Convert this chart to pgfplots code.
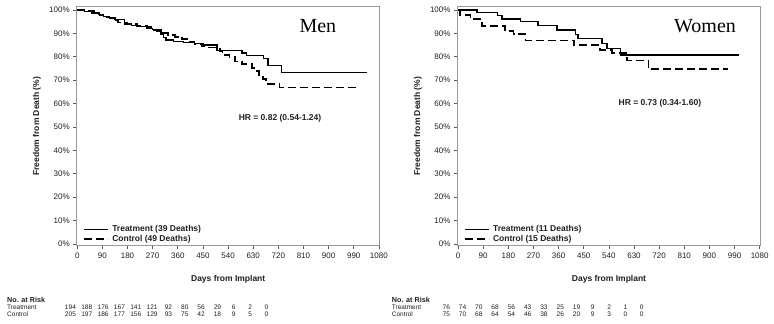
\documentclass[border=0pt]{standalone}
\usepackage{fontspec}
\setmainfont{Liberation Sans}
\newfontfamily\seriffont{Liberation Serif}
\usepackage{pgfplots}
\pgfplotsset{compat=1.18}
\definecolor{framegray}{gray}{0.6}
\definecolor{txt}{gray}{0.12}

\pgfplotsset{kmaxis/.style={
  scale only axis, width=303pt, height=239pt,
  xmin=-2, xmax=1083, ymin=-0.73, ymax=101.4,
  xtick={0,90,...,1080}, ytick={0,10,...,100},
  yticklabel={\pgfmathprintnumber{\tick}\%},
  /pgf/number format/assume math mode=true,
  /pgf/number format/1000 sep={},
  tick align=outside, major tick length=3.5pt,
  xtick pos=left, ytick pos=left,
  axis line style={framegray, line width=0.6pt},
  tick style={black!65, line width=0.6pt},
  ticklabel style={font=\fontsize{8}{9}\selectfont, text=txt},
  xlabel={Days from Implant}, ylabel={Freedom from Death (\%)},
  every axis x label/.style={at={(rel axis cs:0.5,0)}, yshift=-33.3pt, anchor=center, font=\bfseries\fontsize{8.5}{9}\selectfont, text=txt},
  every axis y label/.style={at={(rel axis cs:0,0.5)}, xshift=-39.7pt, rotate=90, anchor=center, font=\bfseries\fontsize{8.5}{9}\selectfont, text=txt},
  legend image code/.code={\draw[#1] (0pt,0pt) -- (24pt,0pt);},
  legend style={at={(rel axis cs:0,0)}, anchor=south west, xshift=3pt, yshift=0pt, draw=none, fill=none,
     font=\bfseries\fontsize{8.5}{9}\selectfont, text=txt, cells={anchor=west},
     nodes={inner sep=0.65pt, text height=6.2pt, text depth=1.8pt}, row sep=0pt,
     /tikz/column 1/.style={column sep=3pt}},
  trt/.style={black, line width=1.3pt, const plot},
  ctl/.style={black, line width=1.7pt, const plot, dash pattern=on 8pt off 4pt},
}}

\begin{document}
\begin{tikzpicture}[x=1pt,y=1pt]
% ---------- Men ----------
\begin{axis}[kmaxis, at={(76.7pt,78.3pt)}, anchor=south west]
\addplot[trt] coordinates {(0,100) (25,99.3) (50,98.7) (75,98.0) (95,97.3) (115,96.6) (135,96.0) (168,94.0) (195,93.4) (220,92.8) (250,92.2) (270,91.6) (285,90.7) (300,89.6) (310,88.2) (318,87.2) (345,86.4) (380,86.0) (420,85.6) (450,85.0) (500,82.8) (590,81.6) (605,80.6) (668,79.3) (683,76.4) (731,73.2) (1037,73.2)};
\addlegendentry{Treatment (39 Deaths)}
\addplot[ctl] coordinates {(0,100) (35,99.5) (60,98.6) (80,97.6) (105,96.8) (125,95.5) (145,94.6) (180,94.0) (215,93.2) (250,92.6) (275,91.4) (300,90.2) (325,89.3) (350,88.6) (375,87.6) (400,86.4) (420,85.6) (445,84.6) (470,84.0) (500,83.5) (510,82.2) (520,80.8) (545,79.8) (565,78.0) (590,76.8) (625,75.3) (640,74.0) (650,72.2) (665,70.5) (677,68.3) (724,66.9) (1006,66.9)};
\addlegendentry{Control (49 Deaths)}
\node[font=\seriffont\fontsize{20}{22}\selectfont, text=black] at (rel axis cs:0.796,0.917) {Men};
\node[font=\bfseries\fontsize{8.5}{9}\selectfont, text=txt] at (rel axis cs:0.671,0.534) {HR = 0.82 (0.54-1.24)};
\end{axis}
% ---------- Women ----------
\begin{axis}[kmaxis, at={(457.5pt,78.3pt)}, anchor=south west]
\addplot[trt] coordinates {(0,100) (68,99.0) (140,97.6) (157,96.2) (223,95.0) (286,93.3) (354,91.5) (420,89.6) (430,87.9) (515,85.8) (533,83.6) (581,80.8) (1007,80.8)};
\addlegendentry{Treatment (11 Deaths)}
\addplot[ctl] coordinates {(0,100) (8,97.9) (44,96.2) (86,93.3) (169,91.0) (199,89.6) (241,87.0) (414,85.0) (509,82.9) (550,81.5) (605,78.4) (682,74.9) (965,74.9)};
\addlegendentry{Control (15 Deaths)}
\node[font=\seriffont\fontsize{20}{22}\selectfont, text=black] at (rel axis cs:0.817,0.917) {Women};
\node[font=\bfseries\fontsize{8.5}{9}\selectfont, text=txt] at (rel axis cs:0.668,0.597) {HR = 0.73 (0.34-1.60)};
\end{axis}
% ---------- Numbers at risk ----------
\begin{scope}[every node/.style={text=txt, inner sep=0pt}]
\node[anchor=base west, font=\bfseries\fontsize{7.2}{8}\selectfont] at (7,21.2) {No. at Risk};
\node[anchor=base west, font=\fontsize{6.5}{7}\selectfont] at (7,14.4) {Treatment};
\node[anchor=base west, font=\fontsize{6.5}{7}\selectfont] at (7,7.6) {Control};
\foreach \v [count=\i from 0] in {194,188,176,167,141,121,92,80,56,29,6,2,0}
  \node[anchor=base, font=\fontsize{6.6}{7}\selectfont] at (70.5+16.33*\i,14.4) {\v};
\foreach \v [count=\i from 0] in {205,197,186,177,156,129,93,75,42,18,9,5,0}
  \node[anchor=base, font=\fontsize{6.6}{7}\selectfont] at (70.5+16.33*\i,7.6) {\v};
\node[anchor=base west, font=\bfseries\fontsize{7.2}{8}\selectfont] at (391.7,21.2) {No. at Risk};
\node[anchor=base west, font=\fontsize{6.5}{7}\selectfont] at (391.7,14.4) {Treatment};
\node[anchor=base west, font=\fontsize{6.5}{7}\selectfont] at (391.7,7.6) {Control};
\foreach \v [count=\i from 0] in {76,74,70,68,56,43,33,25,19,9,2,1,0}
  \node[anchor=base, font=\fontsize{6.6}{7}\selectfont] at (446.3+16.28*\i,14.4) {\v};
\foreach \v [count=\i from 0] in {75,70,68,64,54,46,38,26,20,9,3,0,0}
  \node[anchor=base, font=\fontsize{6.6}{7}\selectfont] at (446.3+16.28*\i,7.6) {\v};
\end{scope}
\pgfresetboundingbox
\path[use as bounding box] (0,0) rectangle (774,324);
\end{tikzpicture}
\end{document}
